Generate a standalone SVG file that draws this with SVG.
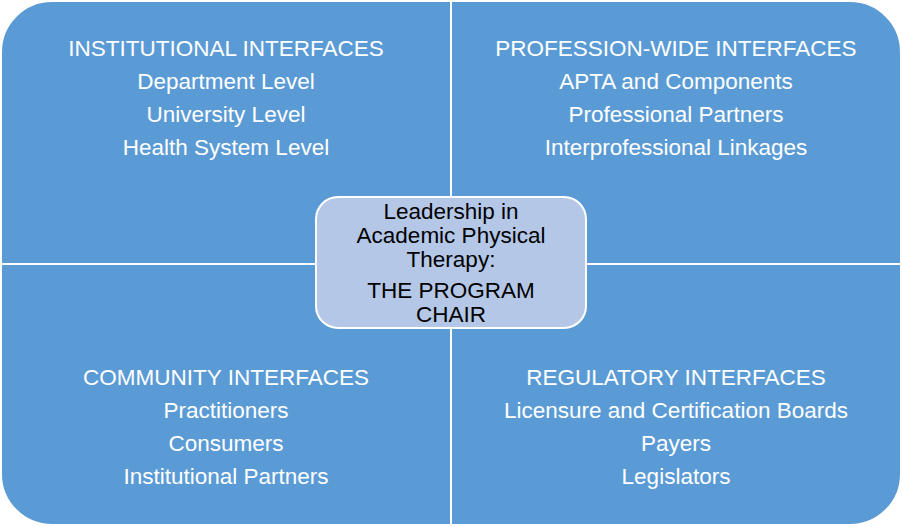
<svg xmlns="http://www.w3.org/2000/svg" width="902" height="527" viewBox="0 0 902 527">
<style>
.q{fill:#5B9BD5;stroke:#fff;stroke-width:2}
.t{font-family:"Liberation Sans",Arial,sans-serif;font-size:22.5px;fill:#fff;text-anchor:middle}
.c{font-family:"Liberation Sans",Arial,sans-serif;font-size:22.5px;fill:#000;text-anchor:middle}
</style>
<rect width="902" height="527" fill="#fff"/>
<g id="q-institutional">
<path class="q" d="M1,264 V52 A51,51 0 0 1 52,1 H451 V264 Z"/>
<text class="t" x="226" y="56">INSTITUTIONAL INTERFACES</text>
<text class="t" x="226" y="89">Department Level</text>
<text class="t" x="226" y="122">University Level</text>
<text class="t" x="226" y="155">Health System Level</text>
</g>
<g id="q-profession">
<path class="q" d="M451,264 V1 H850 A51,51 0 0 1 901,52 V264 Z"/>
<text class="t" x="676" y="56">PROFESSION-WIDE INTERFACES</text>
<text class="t" x="676" y="89">APTA and Components</text>
<text class="t" x="676" y="122">Professional Partners</text>
<text class="t" x="676" y="155">Interprofessional Linkages</text>
</g>
<g id="q-community">
<path class="q" d="M1,264 H451 V525 H52 A51,51 0 0 1 1,474 Z"/>
<text class="t" x="226" y="385">COMMUNITY INTERFACES</text>
<text class="t" x="226" y="418">Practitioners</text>
<text class="t" x="226" y="451">Consumers</text>
<text class="t" x="226" y="484">Institutional Partners</text>
</g>
<g id="q-regulatory">
<path class="q" d="M451,264 H901 V474 A51,51 0 0 1 850,525 H451 Z"/>
<text class="t" x="676" y="385">REGULATORY INTERFACES</text>
<text class="t" x="676" y="418">Licensure and Certification Boards</text>
<text class="t" x="676" y="451">Payers</text>
<text class="t" x="676" y="484">Legislators</text>
</g>
<g id="center">
<rect x="316" y="197" width="270" height="131" rx="22" fill="#B4C7E7" stroke="#fff" stroke-width="2"/>
<text class="c" x="451" y="219">Leadership in</text>
<text class="c" x="451" y="243">Academic Physical</text>
<text class="c" x="451" y="267">Therapy:</text>
<text class="c" x="451" y="298">THE PROGRAM</text>
<text class="c" x="451" y="322">CHAIR</text>
</g>
<g id="connectors"></g>
</svg>
